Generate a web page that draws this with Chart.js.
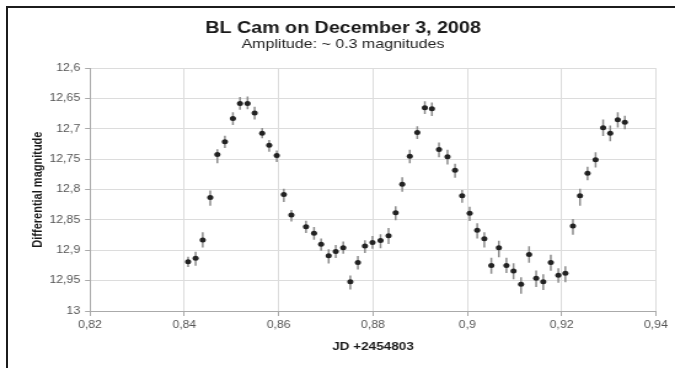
<!DOCTYPE html>
<html>
<head>
<meta charset="utf-8">
<script src="https://cdn.jsdelivr.net/npm/chart.js@4/dist/chart.umd.min.js"></script>
<style>
  html, body { margin: 0; padding: 0; background: #fff; }
  #wrap { position: relative; width: 675px; height: 368px; overflow: hidden; }
  #frame { position: absolute; left: 6px; top: 6px; right: -4px; bottom: -4px; border-top: 2px solid #1c1c1c; border-left: 2px solid #1c1c1c; }
  canvas { position: absolute; left: 0; top: 0; transform-origin: 0 0; transform: scaleX(1.22951); }
</style>
</head>
<body>
<div id="wrap">
  <div id="frame"></div>
  <canvas id="c" width="549" height="368"></canvas>
</div>
<script>
const titleText = 'BL Cam on December 3, 2008';
const subtitleText = 'Amplitude: ~ 0.3 magnitudes';
const xAxisTitle = 'JD +2454803';
const yAxisTitle = 'Differential magnitude';

const jd = [0.8408,0.8424,0.8439,0.8455,0.8470,0.8486,0.8503,0.8518,0.8534,0.8549,
            0.8565,0.8580,0.8596,0.8611,0.8627,0.8658,0.8675,0.8690,0.8706,0.8721,
            0.8737,0.8752,0.8768,0.8783,0.8799,0.8816,0.8833,0.8848,0.8862,0.8878,
            0.8894,0.8910,0.8925,0.8940,0.8958,0.8974,0.8989,0.9005,0.9021,0.9036,
            0.9051,0.9067,0.9083,0.9098,0.9114,0.9131,0.9146,0.9161,0.9177,0.9193,
            0.9208,0.9224,0.9239,0.9255,0.9272,0.9288,0.9303,0.9319,0.9334];
const mag = [12.919,12.913,12.883,12.813,12.742,12.721,12.683,12.658,12.658,12.674,
             12.707,12.727,12.744,12.808,12.842,12.861,12.872,12.890,12.909,12.902,
             12.896,12.952,12.920,12.893,12.887,12.884,12.876,12.838,12.791,12.745,
             12.706,12.665,12.667,12.734,12.746,12.768,12.810,12.839,12.867,12.881,
             12.925,12.896,12.925,12.934,12.956,12.907,12.946,12.952,12.920,12.941,
             12.938,12.860,12.810,12.773,12.751,12.698,12.707,12.685,12.689];
const errUp = [0.008,0.010,0.012,0.011,0.008,0.009,0.010,0.010,0.011,0.010,
               0.008,0.008,0.008,0.009,0.008,0.009,0.010,0.009,0.010,0.010,
               0.010,0.010,0.010,0.009,0.010,0.010,0.012,0.010,0.011,0.010,
               0.010,0.010,0.010,0.011,0.011,0.010,0.009,0.010,0.011,0.010,
               0.012,0.011,0.012,0.012,0.011,0.013,0.012,0.012,0.012,0.011,
               0.011,0.011,0.011,0.010,0.012,0.013,0.012,0.012,0.010];
const errDown = [0.008,0.012,0.012,0.013,0.014,0.010,0.010,0.010,0.009,0.010,
                 0.008,0.010,0.010,0.012,0.010,0.010,0.010,0.010,0.012,0.010,
                 0.009,0.012,0.011,0.011,0.010,0.012,0.013,0.012,0.012,0.011,
                 0.010,0.010,0.011,0.012,0.012,0.012,0.011,0.012,0.013,0.014,
                 0.013,0.015,0.012,0.013,0.015,0.013,0.014,0.013,0.013,0.012,
                 0.014,0.014,0.016,0.011,0.012,0.013,0.013,0.012,0.011];

const xTickLabels = ['0,82','0,84','0,86','0,88','0,9','0,92','0,94'];
const yTickLabels = ['12,6','12,65','12,7','12,75','12,8','12,85','12,9','12,95','13'];

const points = jd.map((x, i) => ({ x: x, y: mag[i] }));
const bars = jd.map((x, i) => ({ x: x, y: [mag[i] - errUp[i], mag[i] + errDown[i]] }));

const tickFont = { family: "'Liberation Sans', Arial, sans-serif", size: 10 };
const axTitleFont = { family: "'Liberation Sans', Arial, sans-serif", size: 11, weight: 'bold' };

new Chart(document.getElementById('c'), {
  type: 'scatter',
  data: {
    datasets: [
      {
        type: 'scatter',
        data: points,
        pointRadius: 2.5,
        pointBackgroundColor: '#222',
        pointBorderWidth: 0,
        showLine: false,
        order: 0
      },
      {
        type: 'bar',
        data: bars,
        backgroundColor: '#8c8c8c',
        borderWidth: 0,
        barThickness: 0.85,
        grouped: false,
        order: 1
      }
    ]
  },
  options: {
    responsive: false,
    animation: false,
    devicePixelRatio: 1,
    layout: { padding: { top: 6, left: 24.5, right: 15.5, bottom: 8 } },
    plugins: {
      legend: { display: false },
      tooltip: { enabled: false },
      title: {
        display: true,
        text: titleText,
        color: '#1a1a1a',
        font: { family: "'Liberation Sans', Arial, sans-serif", size: 16, weight: 'bold', lineHeight: 1.0 },
        padding: { top: 15, bottom: 0 }
      },
      subtitle: {
        display: true,
        text: subtitleText,
        color: '#222',
        font: { family: "'Liberation Sans', Arial, sans-serif", size: 13, lineHeight: 1.2 },
        padding: { top: 0, bottom: 15.6 }
      }
    },
    scales: {
      x: {
        type: 'linear',
        min: 0.82,
        max: 0.94,
        offset: false,
        afterFit: (s) => { s.height = 49; },
        ticks: {
          stepSize: 0.02,
          padding: 3,
          color: '#555',
          font: tickFont,
          maxRotation: 0,
          callback: (v) => xTickLabels[Math.round((v - 0.82) / 0.02)]
        },
        grid: { color: '#dcdcdc', tickColor: '#aaa', tickLength: 5, offset: false },
        border: { color: '#aaa' },
        title: { display: true, text: xAxisTitle, color: '#1a1a1a', font: axTitleFont, padding: { top: 0, bottom: 6.4 } }
      },
      y: {
        type: 'linear',
        reverse: true,
        min: 12.6,
        max: 13,
        afterFit: (s) => { s.width = 48.7; },
        ticks: {
          stepSize: 0.05,
          padding: 4,
          color: '#555',
          font: tickFont,
          callback: (v) => yTickLabels[Math.round((v - 12.6) / 0.05)]
        },
        grid: { color: '#dcdcdc', tickColor: '#aaa', tickLength: 4 },
        border: { color: '#aaa' },
        title: { display: true, text: yAxisTitle, color: '#1a1a1a', font: axTitleFont, padding: { top: 0, bottom: 0 } }
      }
    }
  }
});
</script>
</body>
</html>
